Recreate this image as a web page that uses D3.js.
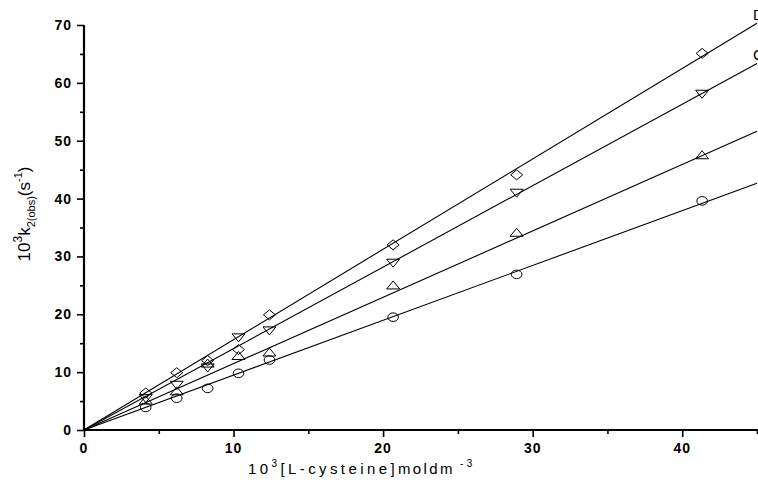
<!DOCTYPE html>
<html>
<head>
<meta charset="utf-8">
<script src="https://cdn.jsdelivr.net/npm/d3@7"></script>
<style>
  body { margin: 0; background: #fff; }
  svg { display: block; font-family: Arial, "Liberation Sans", sans-serif; }
  .tick-label { font-weight: bold; font-size: 14px; letter-spacing: 1px; }
</style>
</head>
<body>
<div id="chart"></div>
<script>
// Data
const conc = [4.13, 6.2, 8.27, 10.33, 12.4, 20.67, 28.93, 41.33]; // 10^3 [L-cysteine]
const kDiamond = [6.4, 9.9, 12.0, 13.9, 19.9, 32.0, 44.1, 65.1];
const kInvTri = [5.6, 7.9, 10.9, 16.1, 17.3, 29.0, 41.1, 58.2];
const kTri = [5.0, 6.6, 11.4, 12.7, 13.3, 24.9, 34.0, 47.4];
const kCircle = [3.9, 5.5, 7.2, 9.8, 12.1, 19.5, 26.9, 39.6];
// fitted lines (slope, intercept) as drawn in the picture
const fitSlope = [1.562, 1.408, 1.147, 0.948];
const fitIntercept = [0, 0, 0, 0];
const seriesNames = ["diamond", "invtri", "tri", "circle"];
const endLabels = ["D", "C"];
const xTicks = [0, 10, 20, 30, 40];
const yTicks = [0, 10, 20, 30, 40, 50, 60, 70];

const width = 758, height = 480;
const svg = d3.select("#chart").append("svg")
    .attr("width", width)
    .attr("height", height);

const x = d3.scaleLinear().domain([0, 45]).range([84, 757]);
const y = d3.scaleLinear().domain([0, 70]).range([430, 25]);

// marker shapes (slightly flattened, like the original)
const markerPath = function(kind) {
    if (kind === "diamond") return "M0,-5L6,0L0,5L-6,0Z";
    if (kind === "invtri") return "M-6.5,-3L6.5,-3L0,5Z";
    if (kind === "tri") return "M0,-5L6.5,3L-6.5,3Z";
    return null;
}

const allK = [kDiamond, kInvTri, kTri, kCircle];

// fit lines
const line = d3.line().x(d => x(d[0])).y(d => y(d[1]));
fitSlope.forEach((m, i) => {
    const b = fitIntercept[i];
    svg.append("path")
        .attr("d", line([[0, b], [45, b + m * 45]]))
        .attr("fill", "none")
        .attr("stroke", "#000")
        .attr("stroke-width", 1.1);
});

// markers
allK.forEach((ks, i) => {
    const kind = seriesNames[i];
    const g = svg.append("g");
    ks.forEach((k, j) => {
        if (kind === "circle") {
            g.append("ellipse")
                .attr("cx", x(conc[j])).attr("cy", y(k))
                .attr("rx", 5.3).attr("ry", 4.3)
                .attr("fill", "none").attr("stroke", "#000").attr("stroke-width", 1);
        } else {
            g.append("path")
                .attr("d", markerPath(kind))
                .attr("transform", "translate(" + x(conc[j]) + "," + y(k) + ")")
                .attr("fill", "none").attr("stroke", "#000").attr("stroke-width", 1);
        }
    });
});

// end labels, cut off by the right edge as in the picture
endLabels.forEach((t, i) => {
    svg.append("text")
        .attr("x", 753)
        .attr("y", y(fitSlope[i] * 45) - 3)
        .attr("font-size", 15)
        .text(t);
});

// axes
const xAxis = d3.axisBottom(x).tickValues(d3.range(0, 46, 5)).tickSize(7).tickFormat("");
const yAxis = d3.axisLeft(y).tickValues(d3.range(0, 71, 5)).tickSize(7).tickFormat("");

const gx = svg.append("g").attr("transform", "translate(0," + y(0) + ")").call(xAxis);
const gy = svg.append("g").attr("transform", "translate(" + x(0) + ",0)").call(yAxis);
[gx, gy].forEach(g => {
    g.select(".domain").attr("stroke-width", 2.2).attr("d", null);
    g.selectAll(".tick line").attr("stroke-width", 1.6);
});
gx.select(".domain").attr("d", "M" + x(0) + ",0H" + width);
gy.select(".domain").attr("d", "M0," + y(70) + "V" + y(0));
gx.selectAll(".tick line").attr("y2", d => d % 10 === 0 ? 7 : 4);
gy.selectAll(".tick line").attr("x2", d => d % 10 === 0 ? -7 : -4);

svg.append("g").selectAll("text")
    .data(xTicks)
    .enter().append("text")
    .attr("class", "tick-label")
    .attr("x", d => x(d))
    .attr("y", 453)
    .attr("text-anchor", "middle")
    .text(d => d);

svg.append("g").selectAll("text")
    .data(yTicks)
    .enter().append("text")
    .attr("class", "tick-label")
    .attr("x", 72)
    .attr("y", d => y(d) + 5)
    .attr("text-anchor", "end")
    .text(d => d);

// x axis title
const xt = svg.append("text")
    .attr("x", 248)
    .attr("y", 474)
    .attr("font-size", 15)
    .attr("letter-spacing", "3.4px");
xt.append("tspan").text("10");
xt.append("tspan").attr("font-size", 10).attr("dy", -7).text("3");
xt.append("tspan").attr("dy", 7).text("[L-cysteine]");
xt.append("tspan").attr("letter-spacing", "2.4px").text("moldm");
xt.append("tspan").attr("font-size", 10).attr("dy", -7).attr("dx", 5).text("-3");

// y axis title
const yt = svg.append("text")
    .attr("transform", "translate(30,214) rotate(-90)")
    .attr("text-anchor", "middle")
    .attr("font-size", 17);
yt.append("tspan").text("10");
yt.append("tspan").attr("font-size", 12).attr("dy", -8).text("3");
yt.append("tspan").attr("dy", 8).text("k");
yt.append("tspan").attr("font-size", 11).attr("dy", 5).text("2(obs)");
yt.append("tspan").attr("dy", -5).text("(s");
yt.append("tspan").attr("font-size", 11).attr("dy", -8).text("-1");
yt.append("tspan").attr("dy", 8).text(")");
</script>
</body>
</html>
